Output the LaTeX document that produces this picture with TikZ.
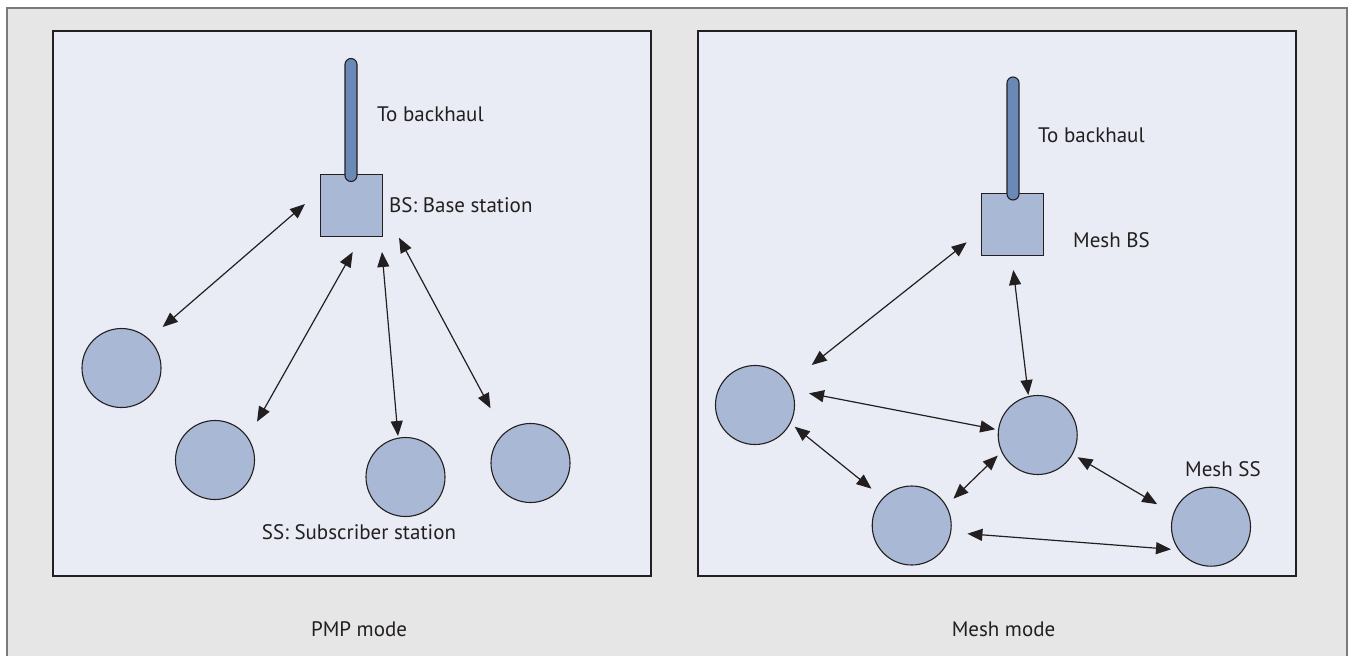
\documentclass[tikz,border=0pt]{standalone}
\usepackage{fontspec}
\setmainfont{PT Sans}
\usetikzlibrary{arrows.meta}
\definecolor{framebg}{HTML}{E6E6E7}
\definecolor{frameline}{HTML}{7A7A7A}
\definecolor{panelbg}{HTML}{E9ECF4}
\definecolor{stationfill}{HTML}{A9B9D5}
\definecolor{polefill}{HTML}{6B89B7}
\definecolor{ink}{HTML}{231F20}

\begin{document}
\begin{tikzpicture}[x=1pt,y=-1pt,
  panel/.style={draw=ink, line width=1.4pt, fill=panelbg},
  ss/.style={circle, draw=ink, line width=1.1pt, fill=stationfill, minimum size=79pt, inner sep=0pt},
  bsbox/.style={rectangle, draw=ink, line width=1.1pt, fill=stationfill, minimum size=62pt, inner sep=0pt},
  pole/.style={rectangle, draw=ink, line width=1.1pt, fill=polefill, minimum width=12pt, minimum height=123pt, rounded corners=6pt, inner sep=0pt},
  link/.style={draw=ink, line width=1.2pt, {Triangle[length=15pt,width=12pt]}-{Triangle[length=15pt,width=12pt]}},
  lbl/.style={font=\fontsize{21}{25}\selectfont, text=ink, inner sep=0pt}
]
\useasboundingbox (0,0) rectangle (1356,656);

% outer frame (open at the bottom)
\fill[framebg] (7,8) rectangle (1347,656);
\draw[frameline, line width=1.4pt] (7,656) -- (7,8) -- (1347,8) -- (1347,656);

% the two panels
\draw[panel] (53,31) rectangle (651,576);
\draw[panel] (698,31) rectangle (1296,576);

% ---------- PMP mode ----------
\node[bsbox] (bsL) at (351.5,205.5) {};
\node[pole] (poleL) at (351,120) {};
\node[lbl, anchor=west] (backL) at (377,114) {To backhaul};
\node[lbl, anchor=west] (bsLlbl) at (389,205) {BS: Base station};

\node[ss] (s1) at (121.5,368) {};
\node[ss] (s2) at (215,460) {};
\node[ss] (s3) at (405.5,477) {};
\node[ss] (s4) at (530.5,463) {};
\node[lbl] (sslbl) at (359,532.5) {SS: Subscriber station};

\coordinate (a1s) at (162.7,327);   \coordinate (a1e) at (305,204);
\coordinate (a2s) at (257,421.7);   \coordinate (a2e) at (352.7,252);
\coordinate (a3s) at (398,436);     \coordinate (a3e) at (382,252);
\coordinate (a4s) at (490.5,408.3); \coordinate (a4e) at (399,237.7);
\draw[link] (a1s) -- (a1e);
\draw[link] (a2s) -- (a2e);
\draw[link] (a3s) -- (a3e);
\draw[link] (a4s) -- (a4e);

\node[lbl] (pmp) at (359,629) {PMP mode};

% ---------- Mesh mode ----------
\node[bsbox] (bsR) at (1012.8,224.5) {};
\node[pole] (poleR) at (1013,138.5) {};
\node[lbl, anchor=west] (backR) at (1038,135) {To backhaul};
\node[lbl, anchor=west] (bsRlbl) at (1073,240) {Mesh BS};

\node[ss] (m1) at (755,405) {};
\node[ss] (m2) at (1037.7,435) {};
\node[ss] (m3) at (911.7,525.5) {};
\node[ss] (m4) at (1211,526.7) {};
\node[lbl, anchor=west] (msslbl) at (1185,469) {Mesh SS};

\coordinate (b1s) at (811.7,365);   \coordinate (b1e) at (966.7,242.3);
\coordinate (b2s) at (1028.3,395);  \coordinate (b2e) at (1013.3,270);
\coordinate (b3s) at (809,393.3);   \coordinate (b3e) at (995.2,429.3);
\coordinate (b4s) at (794.7,426.7); \coordinate (b4e) at (871.5,488.7);
\coordinate (b5s) at (953.4,498.7); \coordinate (b5e) at (997.8,455.5);
\coordinate (b6s) at (1077.5,457.2);\coordinate (b6e) at (1157.2,504.2);
\coordinate (b7s) at (967.4,533.7); \coordinate (b7e) at (1171,549.3);
\draw[link] (b1s) -- (b1e);
\draw[link] (b2s) -- (b2e);
\draw[link] (b3s) -- (b3e);
\draw[link] (b4s) -- (b4e);
\draw[link] (b5s) -- (b5e);
\draw[link] (b6s) -- (b6e);
\draw[link] (b7s) -- (b7e);

\node[lbl] (meshmode) at (1003.5,629) {Mesh mode};
\end{tikzpicture}
\end{document}
